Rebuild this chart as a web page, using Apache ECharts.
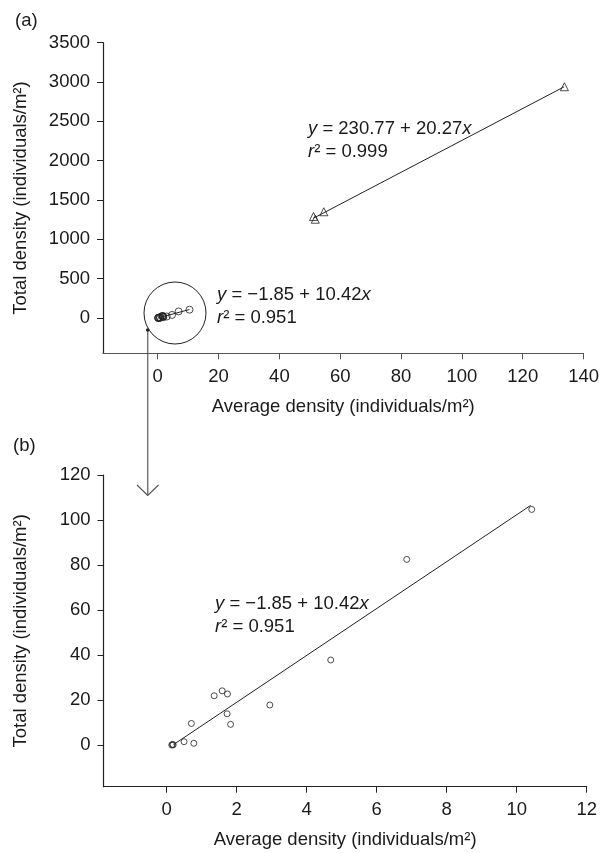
<!DOCTYPE html>
<html><head><meta charset="utf-8">
<script src="https://cdn.jsdelivr.net/npm/echarts@6/dist/echarts.min.js"></script>
<style>html,body{margin:0;padding:0;background:#fff}#c{width:602px;height:853px}</style>
</head><body><div id="c"></div>
<script>
// ---- data ----
const xTicksA = [0, 20, 40, 60, 80, 100, 120, 140];
const yTicksA = [0, 500, 1000, 1500, 2000, 2500, 3000, 3500];
const xTicksB = [0, 2, 4, 6, 8, 10, 12];
const yTicksB = [0, 20, 40, 60, 80, 100, 120];
// panel (a) large-density sites (triangles)
const trianglePts = [[51.2, 1290], [51.8, 1255], [54.6, 1350], [133.7, 2940]];
// small-density sites (circles), shown in (a) and enlarged in (b)
const circlePts = [[0.15, 0.0], [0.17, 0.3], [0.19, 0.1], [0.50, 1.5], [0.78, 0.8], [0.71, 9.6],
  [1.36, 21.9], [1.59, 24.1], [1.74, 22.7], [1.73, 13.9], [1.83, 9.2], [2.95, 17.8],
  [4.69, 37.8], [6.86, 82.5], [10.43, 104.7]];
// regression line end points
const fitLineLarge = [[51.2, 1268], [133.6, 2939]];
const fitLineSmall = [[0.2, 0.2], [10.4, 106.5]];
const xTitle = 'Average density (individuals/m²)';
const yTitle = 'Total density (individuals/m²)';

const FONT = '"Liberation Sans", Arial, Helvetica, sans-serif';
const TXT = '#1a1a1a';
const FS = 18.5;

function mkX(gi, min, max, ticks, lineColor) {
  return {
    type: 'value', gridIndex: gi, min: min, max: max,
    name: xTitle, nameLocation: 'middle', nameGap: 44,
    nameTextStyle: { fontFamily: FONT, fontSize: FS, color: TXT },
    axisLine: { onZero: false, lineStyle: { color: lineColor, width: 1.2 } },
    axisTick: { show: true, length: 6, customValues: ticks, lineStyle: { color: lineColor } },
    axisLabel: { customValues: ticks, margin: 14, fontFamily: FONT, fontSize: FS, color: TXT,
      formatter: v => String(v) },
    splitLine: { show: false }
  };
}
function mkY(gi, min, max, ticks) {
  return {
    type: 'value', gridIndex: gi, min: min, max: max,
    name: yTitle, nameLocation: 'middle', nameGap: 73,
    nameTextStyle: { fontFamily: FONT, fontSize: FS, color: TXT },
    axisLine: { onZero: false, lineStyle: { color: '#222', width: 1.2 } },
    axisTick: { show: true, length: 6, customValues: ticks, lineStyle: { color: '#222' } },
    axisLabel: { customValues: ticks, margin: 13, fontFamily: FONT, fontSize: FS, color: TXT,
      formatter: v => String(v) },
    splitLine: { show: false }
  };
}

const hollow = { color: 'rgba(0,0,0,0)', borderColor: '#222', borderWidth: 1 };
const lineSt = { color: '#222', width: 1 };

function eq(left, top, a, b, r2) {
  return [
    { type: 'text', left: left, top: top, style: {
      text: '{i|y} = ' + a + ' + ' + b + '{i|x}', fontFamily: FONT, fontSize: FS, fill: TXT,
      rich: { i: { fontStyle: 'italic', fontFamily: FONT, fontSize: FS, fill: TXT } } } },
    { type: 'text', left: left, top: top + 23, style: {
      text: '{i|r}² = ' + r2, fontFamily: FONT, fontSize: FS, fill: TXT,
      rich: { i: { fontStyle: 'italic', fontFamily: FONT, fontSize: FS, fill: TXT } } } }
  ];
}

const chart = echarts.init(document.getElementById('c'), null, { renderer: 'canvas' });
chart.setOption({
  animation: false,
  backgroundColor: '#fff',
  grid: [
    { left: 103, top: 42.7, right: 16.5, bottom: 499.7 },
    { left: 103.5, top: 475, right: 15.3, bottom: 66.3 }
  ],
  xAxis: [mkX(0, -18, 140, xTicksA, '#555'), mkX(1, -1.8, 12, xTicksB, '#222')],
  yAxis: [mkY(0, -450, 3500, yTicksA), mkY(1, -18.5, 120, yTicksB)],
  series: [
    { type: 'line', xAxisIndex: 0, yAxisIndex: 0, data: fitLineLarge, symbol: 'none', lineStyle: lineSt, z: 2 },
    { type: 'scatter', xAxisIndex: 0, yAxisIndex: 0, data: trianglePts, symbol: 'triangle', symbolSize: 8, itemStyle: hollow, z: 3 },
    { type: 'line', xAxisIndex: 0, yAxisIndex: 0, data: fitLineSmall, symbol: 'none', lineStyle: lineSt, z: 2 },
    { type: 'scatter', xAxisIndex: 0, yAxisIndex: 0, data: circlePts, symbol: 'circle', symbolSize: 7, itemStyle: hollow, z: 3 },
    { type: 'line', xAxisIndex: 1, yAxisIndex: 1, data: fitLineSmall, symbol: 'none', lineStyle: lineSt, z: 2 },
    { type: 'scatter', xAxisIndex: 1, yAxisIndex: 1, data: circlePts, symbol: 'circle', symbolSize: 6, itemStyle: hollow, z: 3 }
  ],
  graphic: [
    { type: 'text', left: 15, top: 11, style: { text: '(a)', fontFamily: FONT, fontSize: FS, fill: TXT } },
    { type: 'text', left: 13, top: 436, style: { text: '(b)', fontFamily: FONT, fontSize: FS, fill: TXT } },
    ...eq(308, 119, '230.77', '20.27', '0.999'),
    ...eq(217, 285, '−1.85', '10.42', '0.951'),
    ...eq(215, 594, '−1.85', '10.42', '0.951'),
    { type: 'circle', shape: { cx: 175, cy: 313, r: 31 }, style: { fill: 'none', stroke: '#222', lineWidth: 1 } },
    { type: 'line', shape: { x1: 147.7, y1: 330, x2: 147.7, y2: 495 }, style: { stroke: '#777', lineWidth: 1.5 } },
    { type: 'circle', shape: { cx: 147.7, cy: 330, r: 1.8 }, style: { fill: '#222' } },
    { type: 'polyline', shape: { points: [[137, 485], [147.7, 495.5], [158.5, 485]] }, style: { stroke: '#555', lineWidth: 1.2, fill: 'none' } }
  ]
});
</script></body></html>
